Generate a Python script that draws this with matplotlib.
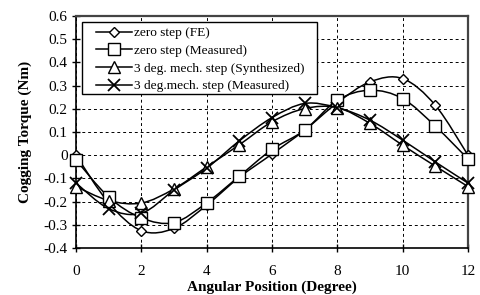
import matplotlib
matplotlib.use('Agg')
import matplotlib.pyplot as plt
import numpy as np
from matplotlib.path import Path
from matplotlib.patches import PathPatch, Rectangle
from matplotlib.lines import Line2D

# data
angle = [0, 1, 2, 3, 4, 5, 6, 7, 8, 9, 10, 11, 12]
zero_fe = [0.0, -0.205, -0.325, -0.315, -0.215, -0.095, 0.005, 0.108, 0.226, 0.316, 0.33, 0.215, 0.0]
zero_meas = [-0.02, -0.18, -0.27, -0.29, -0.205, -0.09, 0.025, 0.108, 0.237, 0.28, 0.244, 0.125, -0.016]
step_synth = [-0.135, -0.195, -0.206, -0.145, -0.05, 0.045, 0.144, 0.201, 0.205, 0.137, 0.043, -0.047, -0.135]
step_meas = [-0.12, -0.23, -0.25, -0.15, -0.056, 0.062, 0.162, 0.223, 0.205, 0.151, 0.065, -0.029, -0.12]

labels = ['zero step (FE)', 'zero step (Measured)',
          '3 deg. mech. step (Synthesized)', '3 deg.mech. step (Measured)']
markers = ['D', 's', '^', 'x']
msizes = [5, 8, 8, 9]

plt.rcParams['font.family'] = ['Liberation Serif', 'DejaVu Serif']


def smooth_path(xs, ys):
    # catmull-rom through the points, as cubic bezier segments
    pts = np.column_stack([xs, ys]).astype(float)
    verts = [pts[0]]
    codes = [Path.MOVETO]
    n = len(pts)
    for i in range(n - 1):
        p0 = pts[i - 1] if i > 0 else pts[i]
        p1 = pts[i]
        p2 = pts[i + 1]
        p3 = pts[i + 2] if i + 2 < n else pts[i + 1]
        c1 = p1 + (p2 - p0) / 6.0
        c2 = p2 - (p3 - p1) / 6.0
        verts += [c1, c2, p2]
        codes += [Path.CURVE4] * 3
    return Path(verts, codes)


fig = plt.figure(figsize=(4.81, 2.95), dpi=100)
ax = fig.add_axes([0.158, 0.159, 0.815, 0.787])

handles = []
for ys, m, ms, lab in zip([zero_fe, zero_meas, step_synth, step_meas], markers, msizes, labels):
    ax.add_patch(PathPatch(smooth_path(angle, ys), fill=False, edgecolor='black', lw=1.1, zorder=3))
    mew = 1.3 if m == 'x' else 1.0
    ax.plot(angle, ys, linestyle='none', marker=m, markersize=ms, markerfacecolor='white',
            markeredgecolor='black', markeredgewidth=mew, zorder=4, clip_on=False)
    handles.append(Line2D([], [], color='black', lw=1.1, marker=m, markersize=ms,
                          markerfacecolor='white', markeredgewidth=mew, label=lab))

yt = np.round(np.arange(-0.4, 0.61, 0.1), 1)
ax.set_xlim(0, 12)
ax.set_ylim(-0.4, 0.6)
ax.set_xticks(range(0, 13, 2))
ax.set_yticks(yt)
ax.set_yticklabels(['%g' % v if v != 0 else '0' for v in yt])
ax.grid(True, color='black', linestyle=(0, (3, 3)), lw=0.7)
ax.tick_params(direction='inout', length=6, width=1, labelsize=11, pad=3)
ax.tick_params(axis='x', pad=9)
for s in ['left', 'bottom']:
    ax.spines[s].set_linewidth(1.2)
for s in ['top', 'right']:
    ax.spines[s].set_linewidth(1.6)
    ax.spines[s].set_color('#444444')

ax.set_xlabel('Angular Position (Degree)', fontweight='bold', fontsize=11, labelpad=2)
ax.set_ylabel('Cogging Torque (Nm)', fontweight='bold', fontsize=11, labelpad=8)

# legend box drawn separately: wider side padding than matplotlib's frame gives
ax.add_patch(Rectangle((0.0153, 0.664), 0.6, 0.31, transform=ax.transAxes,
                       facecolor='white', edgecolor='black', lw=1.0, zorder=5))
leg = ax.legend(handles=handles, loc='upper left', bbox_to_anchor=(0.052, 0.952),
                fontsize=9.6, frameon=False, handlelength=2.7, handletextpad=0.15,
                borderpad=0, labelspacing=0.4, borderaxespad=0)
leg.set_zorder(6)

fig.savefig('out.png', dpi=100)
